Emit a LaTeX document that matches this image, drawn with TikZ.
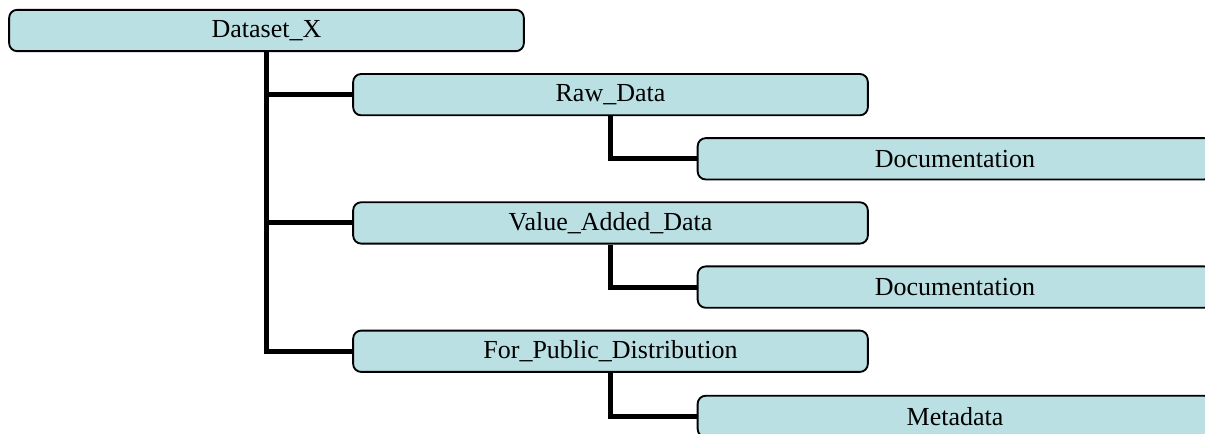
\documentclass[tikz,border=0pt]{standalone}
\usepackage{fontspec}
\setmainfont{Liberation Serif}
\usepackage{xcolor}
\usetikzlibrary{positioning}

\definecolor{folderblue}{RGB}{186,224,227}

\begin{document}
\begin{tikzpicture}[
    x = 0.75pt, y = -0.75pt,
    every node/.style = {font=\fontsize{19.5}{23}\selectfont},
    % Named styles
    folder/.style = {draw=black, line width=1.4pt, rounded corners=6pt,
                     fill=folderblue, inner sep=0pt,
                     minimum width=386pt, minimum height=31pt},
    branch/.style = {line width=3.8pt},
]

% ── Grid (px-like units, y grows downward) ───────────────────────────────────
\def\colA{266.5}   % top level
\def\colB{610.5}   % sub folders
\def\colC{955}     % leaf folders
\def\rowstep{64.15}

\useasboundingbox (0,0) rectangle (1205,434);
\clip (0,0) rectangle (1205,434);

% ── Folders ──────────────────────────────────────────────────────────────────
\node[folder] (root)   at (\colA, 30.5)            {Dataset\_X};
\node[folder] (raw)    at (\colB, 30.5+\rowstep)   {Raw\_Data};
\node[folder] (rawdoc) at (\colC, 30.5+2*\rowstep) {Documentation};
\node[folder] (added)  at (\colB, 30.5+3*\rowstep) {Value\_Added\_Data};
\node[folder] (adddoc) at (\colC, 30.5+4*\rowstep) {Documentation};
\node[folder] (public) at (\colB, 30.5+5*\rowstep) {For\_Public\_Distribution};
\node[folder] (meta)   at (\colC, 31.5+6*\rowstep) {Metadata};

% ── Branches ─────────────────────────────────────────────────────────────────
\draw[branch] (root.south)   |- (raw.west);
\draw[branch] (root.south)   |- (added.west);
\draw[branch] (root.south)   |- (public.west);
\draw[branch] (raw.south)    |- (rawdoc.west);
\draw[branch] (added.south)  |- (adddoc.west);
\draw[branch] (public.south) |- (meta.west);

\end{tikzpicture}
\end{document}
